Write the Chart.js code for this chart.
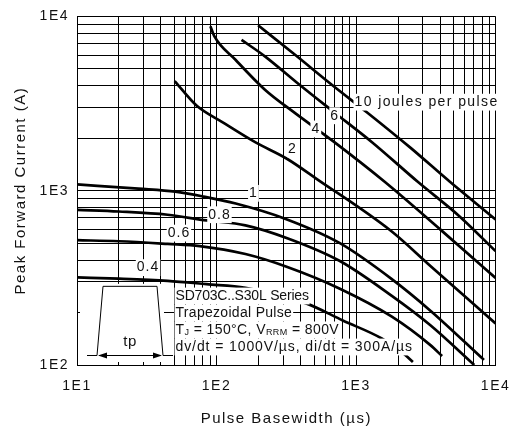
<!DOCTYPE html>
<html>
<head>
<meta charset="utf-8">
<script src="https://cdn.jsdelivr.net/npm/chart.js@4/dist/chart.umd.min.js"></script>
<style>
  html, body { margin: 0; padding: 0; background: #fff; }
  #wrap { width: 521px; height: 429px; position: relative; }
</style>
</head>
<body>
<div id="wrap"><canvas id="chart"></canvas></div>
<script>
// Pulse basewidth (µs) / peak forward current (A), one pair per energy curve
const E10_X = [198.6, 359.9, 684.3, 1201, 2475, 4707, 10000];
const E10_Y = [8890, 6084, 4002, 2812, 1755, 1125, 684];

const E6_X = [151.1, 222.3, 377.7, 684.3, 1302, 2770, 5527, 10000];
const E6_Y = [7334, 5902, 4163, 2849, 1898, 1125, 712, 450];

const E4_X = [90.4, 96.4, 137.3, 222.3, 359.9, 684.3, 1604, 4009, 10000];
const E4_Y = [8773, 7697, 5623, 3797, 2812, 1924, 1125, 600, 316];

const E2_X = [50.1, 72.2, 110.8, 189.2, 321.6, 521, 1795, 3413, 10000];
const E2_Y = [4256, 3069, 2466, 1898, 1520, 1170, 585, 370, 173];

const E1_X = [10, 27.5, 50.7, 80.8, 137.3, 306.4, 766, 1795, 3413, 8260];
const E1_Y = [1086, 1027, 987, 925, 844, 693, 500, 312, 205, 107];

const E08_X = [10, 19.95, 44.6, 84.8, 161.2, 321.6, 766, 1795, 3413, 7035];
const E08_Y = [777, 760, 728, 675, 633, 534, 395, 250, 169, 100];

const E06_X = [10, 19.95, 44.6, 75.8, 161.2, 321.6, 766, 1795, 3413, 4140];
const E06_Y = [520, 513, 495, 481, 433, 365, 274, 190, 130, 112.5];

const E04_X = [10, 19.95, 44.6, 84.8, 161.2, 443.6, 803.9, 1528, 2176, 2556];
const E04_Y = [318, 313, 304, 291, 277.5, 225, 180, 142, 117, 104];

// curve labels, placed in data units
const CURVE_LABELS = ['10 joules per pulse', '6', '4', '2', '1', '0.8', '0.6', '0.4'];
const LABEL_X = [975, 703, 515, 350, 184, 105, 53.8, 32.3];
const LABEL_Y = [3221, 2691, 2260, 1738, 966, 728, 571, 362];

// log grid and tick labels
const X_TICKS = [10, 20, 30, 40, 50, 60, 70, 80, 90,
  100, 200, 300, 400, 500, 600, 700, 800, 900,
  1000, 2000, 3000, 4000, 5000, 6000, 7000, 8000, 9000, 10000];
const Y_TICKS = [100, 200, 300, 400, 500, 600, 700, 800, 900,
  1000, 2000, 3000, 4000, 5000, 6000, 7000, 8000, 9000, 10000];
const X_TICK_LABELS = { 10: '1E1', 100: '1E2', 1000: '1E3', 10000: '1E4' };
const Y_TICK_LABELS = { 100: '1E2', 1000: '1E3', 10000: '1E4' };

const NOTE_LINES = ['SD703C..S30L Series', 'Trapezoidal Pulse'];
const NOTE_LAST = 'dv/dt = 1000V/µs, di/dt = 300A/µs';

const FONT = '"Liberation Sans", Arial, Helvetica, sans-serif';
const INK = '#111';

const SERIES = [
  [E10_X, E10_Y], [E6_X, E6_Y], [E4_X, E4_Y], [E2_X, E2_Y],
  [E1_X, E1_Y], [E08_X, E08_Y], [E06_X, E06_Y], [E04_X, E04_Y],
];

const datasets = SERIES.map(([xs, ys]) => ({
  data: xs.map((x, i) => ({ x, y: ys[i] })),
  borderColor: '#000',
  borderWidth: 2.7,
  pointRadius: 0,
  fill: false,
  cubicInterpolationMode: 'monotone',
}));

function boxedText(ctx, text, x, y, size, spacing, align) {
  ctx.font = `${size}px ${FONT}`;
  ctx.letterSpacing = spacing + 'px';
  const w = ctx.measureText(text).width;
  const left = align === 'center' ? x - w / 2 : x;
  ctx.fillStyle = '#fff';
  ctx.fillRect(left - 1, y - size * 0.6, w + 2, size * 1.2);
  ctx.fillStyle = INK;
  ctx.textAlign = 'left';
  ctx.textBaseline = 'middle';
  ctx.fillText(text, left, y);
  return w;
}

// segments: [text, size, dy]
function richText(ctx, parts, x, y, spacing) {
  let cx = x;
  const widths = parts.map(([t, s]) => {
    ctx.font = `${s}px ${FONT}`;
    ctx.letterSpacing = spacing + 'px';
    return ctx.measureText(t).width;
  });
  const total = widths.reduce((a, b) => a + b, 0);
  ctx.fillStyle = '#fff';
  ctx.fillRect(x - 1, y - 8.5, total + 2, 17);
  ctx.fillStyle = INK;
  ctx.textAlign = 'left';
  ctx.textBaseline = 'middle';
  parts.forEach(([t, s, dy], i) => {
    ctx.font = `${s}px ${FONT}`;
    ctx.fillText(t, cx, y + dy);
    cx += widths[i];
  });
}

const annotations = {
  id: 'annotations',
  beforeDraw(chart) {
    chart.ctx.letterSpacing = '1.5px';
  },
  afterDatasetsDraw(chart) {
    const { ctx, chartArea: a, scales: { x, y } } = chart;
    ctx.save();

    // curve labels
    CURVE_LABELS.forEach((t, i) => {
      boxedText(ctx, t, x.getPixelForValue(LABEL_X[i]), y.getPixelForValue(LABEL_Y[i]),
        14, i === 0 ? 1.4 : 1, i === 0 ? 'left' : 'center');
    });

    // inset with the pulse shape
    const boxR = x.getPixelForValue(40) + 3;
    const boxT = y.getPixelForValue(300) + 2;
    ctx.fillStyle = '#fff';
    ctx.fillRect(a.left + 3, boxT, boxR - a.left - 3, a.bottom - 3 - boxT);

    const base = a.bottom - 10;
    const top = boxT + 2;
    const l0 = a.left + 20, r0 = a.left + 86;
    ctx.strokeStyle = '#000';
    ctx.lineWidth = 1;
    ctx.beginPath();
    ctx.moveTo(l0 - 10, base + 0.5);
    ctx.lineTo(l0, base + 0.5);
    ctx.lineTo(l0 + 6, top + 0.5);
    ctx.lineTo(r0 - 6, top + 0.5);
    ctx.lineTo(r0, base + 0.5);
    ctx.lineTo(r0 + 10, base + 0.5);
    ctx.stroke();
    // double arrow
    ctx.beginPath();
    ctx.moveTo(l0 + 2, base + 0.5);
    ctx.lineTo(r0 - 2, base + 0.5);
    ctx.stroke();
    ctx.fillStyle = '#000';
    ctx.beginPath();
    ctx.moveTo(l0 + 1, base + 0.5);
    ctx.lineTo(l0 + 10, base - 2.5);
    ctx.lineTo(l0 + 10, base + 3.5);
    ctx.closePath();
    ctx.moveTo(r0 - 1, base + 0.5);
    ctx.lineTo(r0 - 10, base - 2.5);
    ctx.lineTo(r0 - 10, base + 3.5);
    ctx.closePath();
    ctx.fill();
    ctx.font = `15px ${FONT}`;
    ctx.letterSpacing = '0.5px';
    ctx.textAlign = 'center';
    ctx.textBaseline = 'middle';
    ctx.fillStyle = INK;
    ctx.fillText('tp', (l0 + r0) / 2, base - 13);

    // notes block
    const nx = x.getPixelForValue(50) + 1;
    const ny = a.bottom - 69;
    boxedText(ctx, NOTE_LINES[0], nx, ny, 14, -0.2, 'left');
    boxedText(ctx, NOTE_LINES[1], nx, ny + 17, 14, 0.3, 'left');
    richText(ctx, [
      ['T', 14, 0], ['J', 9, 3], [' = 150°C, V', 14, 0], ['RRM', 9, 3], [' = 800V', 14, 0],
    ], nx, ny + 34, 0.4);
    boxedText(ctx, NOTE_LAST, nx, ny + 51, 14, 0.9, 'left');

    ctx.restore();
  },
  afterDraw(chart) {
    chart.ctx.letterSpacing = '0px';
  },
};

new Chart(document.getElementById('chart'), {
  type: 'line',
  data: { datasets },
  options: {
    responsive: true,
    maintainAspectRatio: false,
    animation: false,
    layout: { padding: { top: 13, right: 14, left: 0, bottom: 0 } },
    plugins: { legend: { display: false }, tooltip: { enabled: false } },
    scales: {
      x: {
        type: 'logarithmic',
        min: 10,
        max: 10000,
        afterBuildTicks: (s) => { s.ticks = X_TICKS.map((v) => ({ value: v })); },
        afterFit: (s) => { s.height = 64; },
        ticks: {
          autoSkip: false,
          maxRotation: 0,
          padding: 13,
          color: INK,
          font: { family: FONT, size: 14 },
          callback: (v) => X_TICK_LABELS[v] || '',
        },
        grid: { color: '#000', lineWidth: 1, drawTicks: false },
        border: { color: '#000', width: 1 },
        title: {
          display: true,
          text: 'Pulse Basewidth (µs)',
          color: INK,
          font: { family: FONT, size: 15 },
          padding: { top: 0, bottom: 1 },
        },
      },
      y: {
        type: 'logarithmic',
        min: 100,
        max: 10000,
        afterBuildTicks: (s) => { s.ticks = Y_TICKS.map((v) => ({ value: v })); },
        afterFit: (s) => { s.width = 77; },
        ticks: {
          autoSkip: false,
          padding: 8,
          color: INK,
          font: { family: FONT, size: 14 },
          callback: (v) => Y_TICK_LABELS[v] || '',
        },
        grid: { color: '#000', lineWidth: 1, drawTicks: false },
        border: { color: '#000', width: 1 },
        title: {
          display: true,
          text: 'Peak Forward Current (A)',
          color: INK,
          font: { family: FONT, size: 15 },
          padding: { top: 12, bottom: 0 },
        },
      },
    },
  },
  plugins: [annotations],
});
</script>
</body>
</html>
